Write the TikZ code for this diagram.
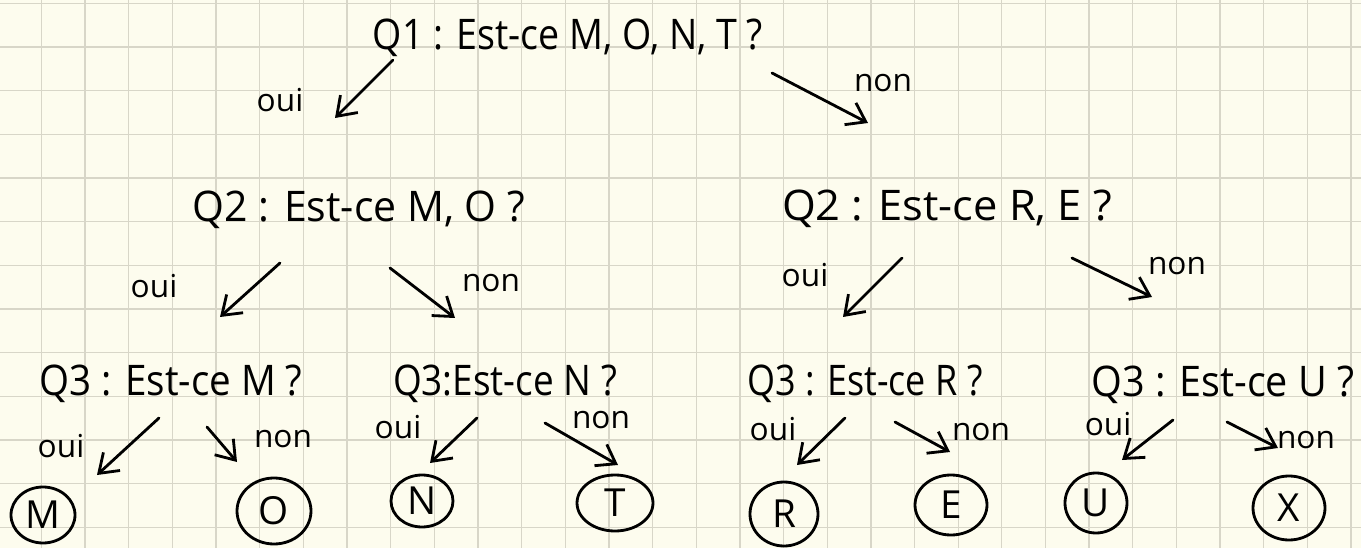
\documentclass[tikz,border=0pt]{standalone}
\usepackage{fontspec}
\setmainfont{Open Sans}
\usetikzlibrary{arrows.meta,shapes.geometric}
\newlength\pxu
\setlength\pxu{0.2mm}
\newcommand{\fitw}[2]{\resizebox{#1\pxu}{\height}{#2}}
\definecolor{paper}{RGB}{253,252,238}
\definecolor{gridc}{RGB}{216,214,200}
\begin{document}
\begin{tikzpicture}[x=0.2mm,y=-0.2mm,
  ink/.style={line width=1.6pt, line cap=round, line join=round},
  arr/.style={ink, -{Straight Barb[length=10pt,width=14pt]}},
  qtext/.style={anchor=base, inner sep=0pt, font=\fontsize{24}{28}\selectfont},
  lab/.style={anchor=base, inner sep=0pt, font=\fontsize{18}{21}\selectfont},
  leaf/.style={ellipse, draw, ink, inner sep=0pt, font=\fontsize{22}{26}\selectfont},
]
\fill[paper] (0,0) rectangle (1361,548);
\useasboundingbox (0,0) rectangle (1361,548);
\foreach \i in {0,...,30} \draw[gridc, line width=0.75pt] ({41.5+43.65*\i},0) -- ({41.5+43.65*\i},548);
\foreach \j in {0,...,12} \draw[gridc, line width=0.75pt] (0,{3.4+43.65*\j}) -- (1361,{3.4+43.65*\j});

% questions
\node[qtext] (q1)  at (568,50)  {\fitw{390}{Q1 : Est-ce M, O, N, T ?}};
\node[qtext] (q2a) at (359,222) {\fitw{332}{Q2 : Est-ce M, O ?}};
\node[qtext] (q2b) at (947,221) {\fitw{330}{Q2 : Est-ce R, E ?}};
\node[qtext] (q3a) at (171,395) {\fitw{263}{Q3 : Est-ce M ?}};
\node[qtext] (q3b) at (505,395) {\fitw{224}{Q3:Est-ce N ?}};
\node[qtext] (q3c) at (865,395) {\fitw{235}{Q3 : Est-ce R ?}};
\node[qtext] (q3d) at (1223,396) {\fitw{263}{Q3 : Est-ce U ?}};

% leaves
\node[leaf, minimum width=64\pxu, minimum height=56\pxu] (lm) at (43,515)  {M};
\node[leaf, minimum width=74\pxu, minimum height=66\pxu] (lo) at (274,511) {O};
\node[leaf, minimum width=62\pxu, minimum height=52\pxu] (ln) at (422,501) {N};
\node[leaf, minimum width=76\pxu, minimum height=56\pxu] (lt) at (615,503) {T};
\node[leaf, minimum width=68\pxu, minimum height=64\pxu] (lr) at (784,514) {R};
\node[leaf, minimum width=72\pxu, minimum height=60\pxu] (le) at (951,505) {E};
\node[leaf, minimum width=62\pxu, minimum height=60\pxu] (lu) at (1096,503) {U};
\node[leaf, minimum width=72\pxu, minimum height=64\pxu] (lx) at (1289,508) {X};

% labels
\node[lab] (l1o)  at (280,112)  {oui};
\node[lab] (l1n)  at (883,92)   {non};
\node[lab] (l2ao) at (154,298)  {oui};
\node[lab] (l2an) at (491,292)  {non};
\node[lab] (l2bo) at (805,287)  {oui};
\node[lab] (l2bn) at (1177,275) {non};
\node[lab] (l3ao) at (61,457)   {oui};
\node[lab] (l3an) at (283,447)  {non};
\node[lab] (l3bo) at (398,438)  {oui};
\node[lab] (l3bn) at (601,428)  {non};
\node[lab] (l3co) at (773,440)  {oui};
\node[lab] (l3cn) at (981,440)  {non};
\node[lab] (l3do) at (1108,435) {oui};
\node[lab] (l3dn) at (1306,448) {non};

% arrow end points
\coordinate (a1o-s) at (393,60);   \coordinate (a1o-e) at (335,118);
\coordinate (a1n-s) at (772,73);   \coordinate (a1n-e) at (868,123);
\coordinate (a2ao-s) at (280,263); \coordinate (a2ao-e) at (220,317);
\coordinate (a2an-s) at (390,268); \coordinate (a2an-e) at (455,318);
\coordinate (a2bo-s) at (902,258); \coordinate (a2bo-e) at (843,317);
\coordinate (a2bn-s) at (1072,258);\coordinate (a2bn-e) at (1152,297);
\coordinate (a3ao-s) at (159,418); \coordinate (a3ao-e) at (97,475);
\coordinate (a3an-s) at (207,427); \coordinate (a3an-e) at (237,462);
\coordinate (a3bo-s) at (477,418); \coordinate (a3bo-e) at (430,463);
\coordinate (a3bn-s) at (545,423); \coordinate (a3bn-e) at (618,465);
\coordinate (a3co-s) at (845,418); \coordinate (a3co-e) at (797,465);
\coordinate (a3cn-s) at (895,422); \coordinate (a3cn-e) at (950,452);
\coordinate (a3do-s) at (1173,420);\coordinate (a3do-e) at (1122,460);
\coordinate (a3dn-s) at (1227,422);\coordinate (a3dn-e) at (1278,448);

\foreach \a in {a1o,a1n,a2ao,a2an,a2bo,a2bn,a3ao,a3an,a3bo,a3bn,a3co,a3cn,a3do,a3dn}
  \draw[arr] (\a-s) -- (\a-e);
\end{tikzpicture}
\end{document}
